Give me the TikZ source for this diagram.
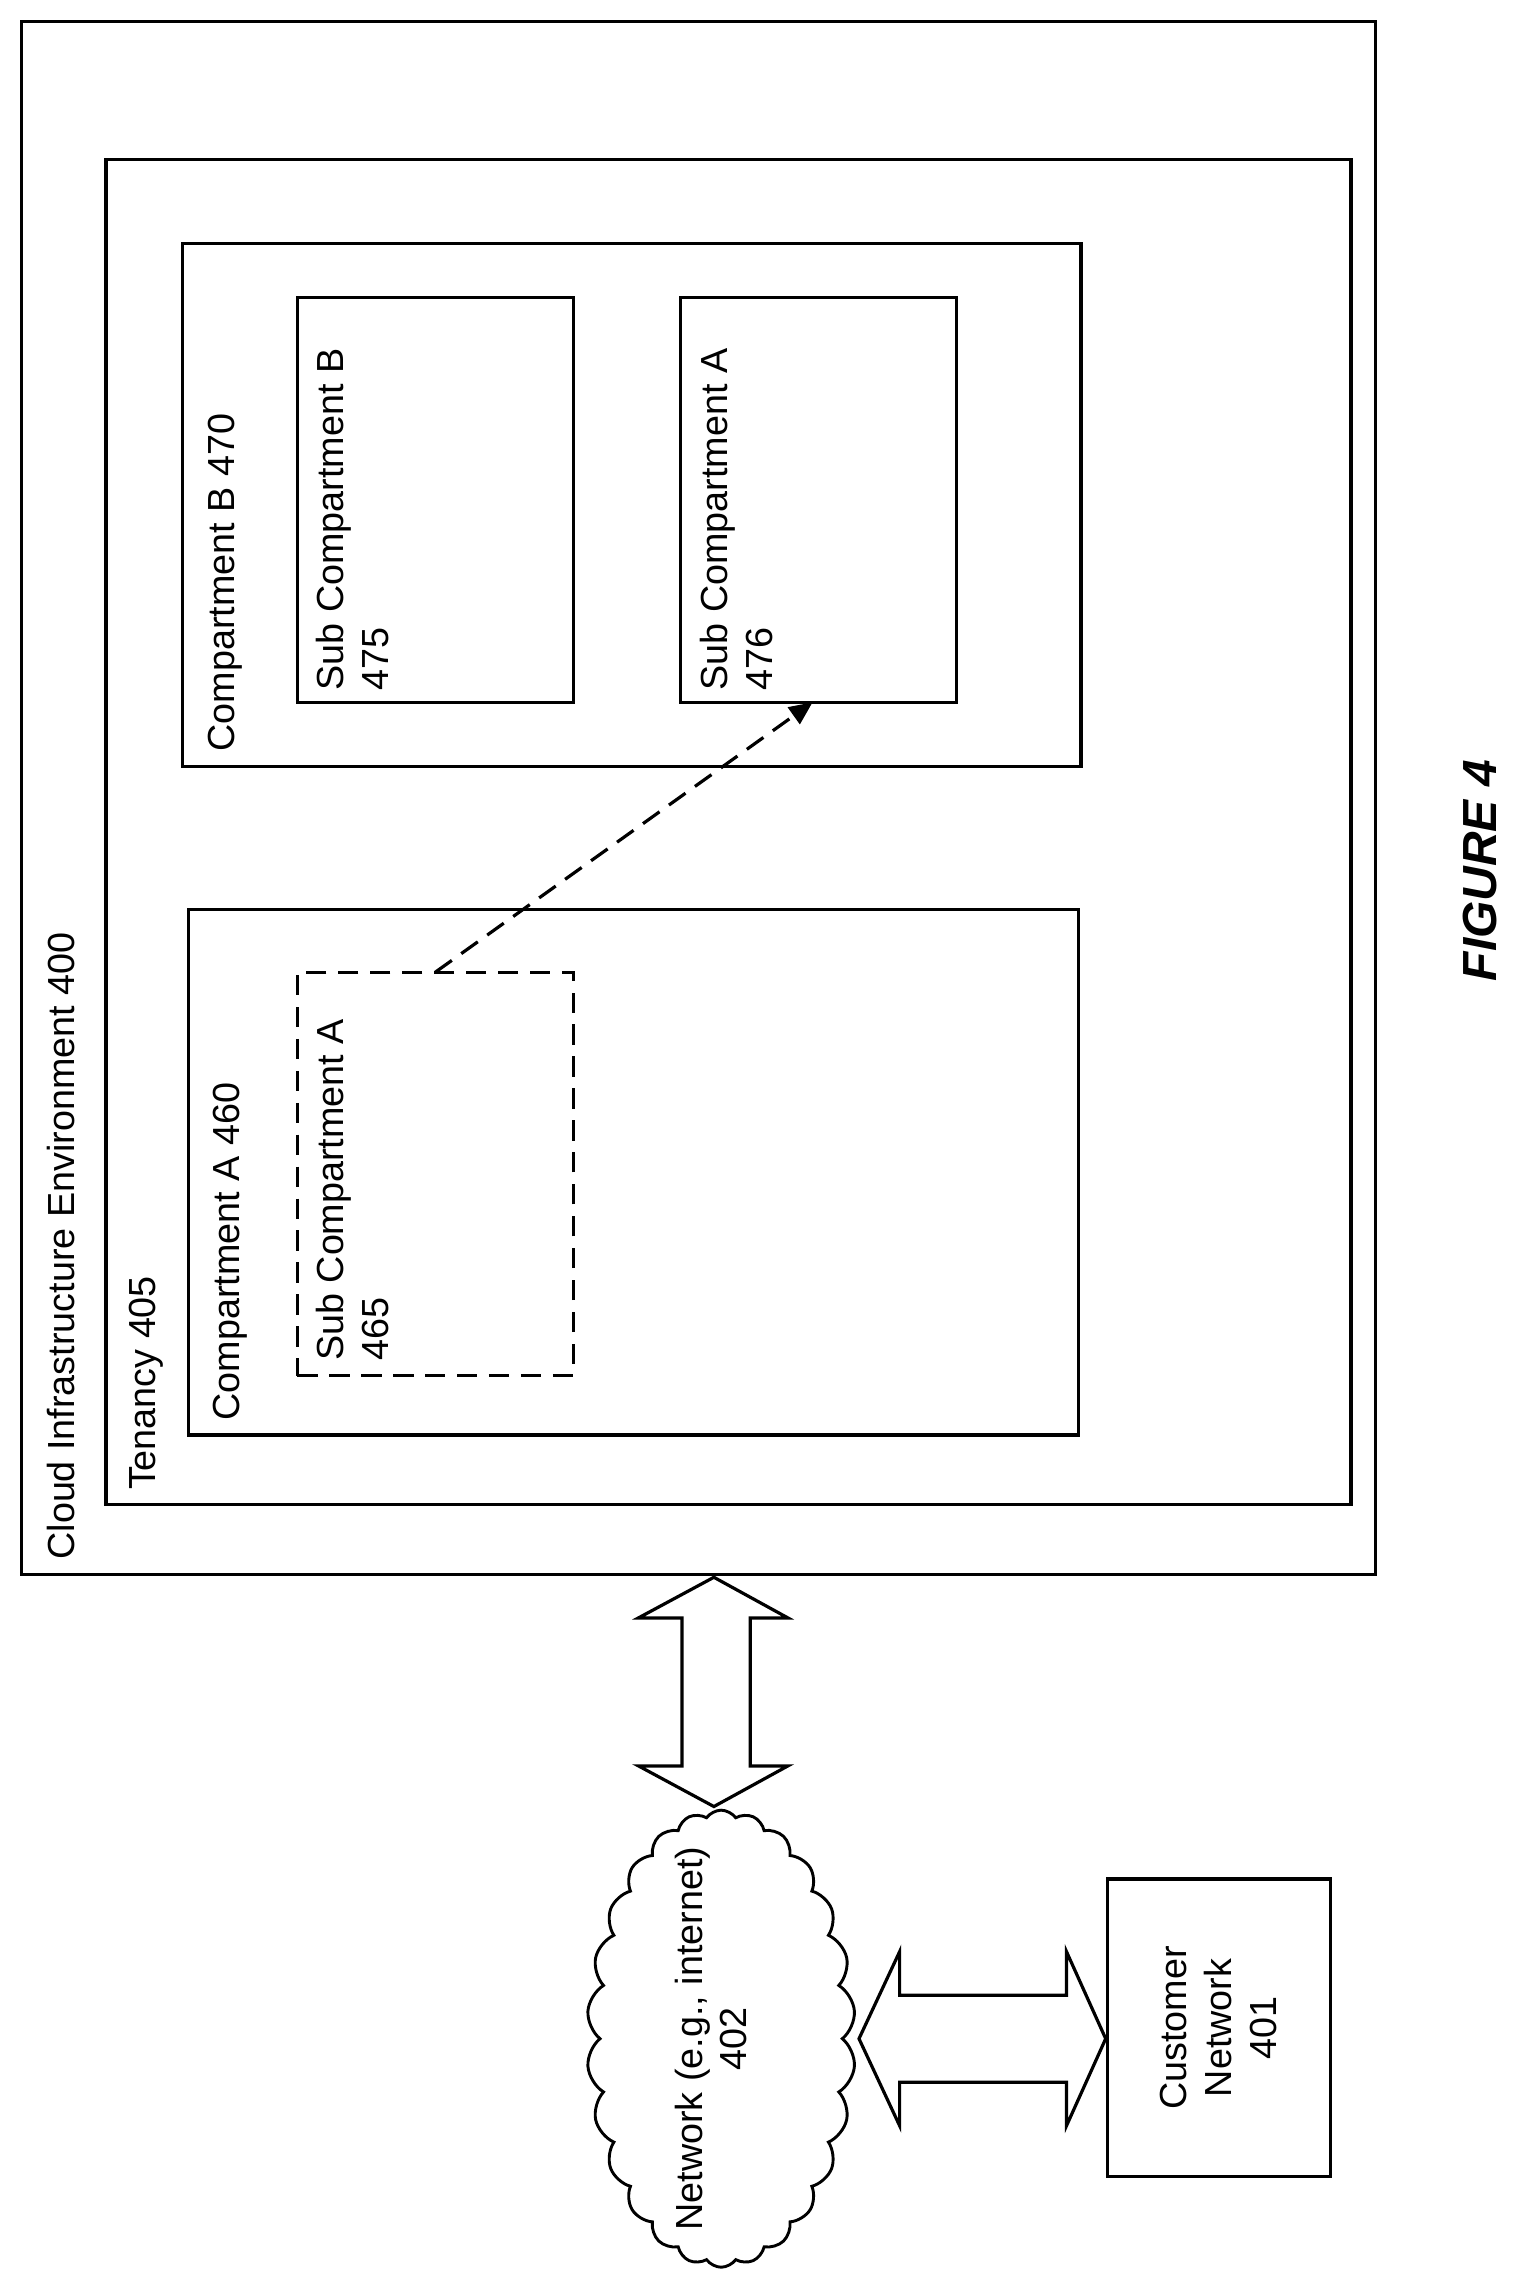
\documentclass[tikz,border=0pt]{standalone}
\usepackage{fontspec}
\setmainfont{Liberation Sans}
\usetikzlibrary{fit,shapes.symbols,arrows.meta}
\begin{document}
\begin{tikzpicture}[x=1pt,y=-1pt,
  box/.style={draw,line width=2.2pt,inner sep=0pt},
  lbl/.style={rotate=90,anchor=north west,inner sep=0pt,font=\fontsize{26}{31}\selectfont,align=left},
  dbl/.style={draw,line width=2.2pt,fill=white}]
\useasboundingbox (0,0) rectangle (1050,1572);
\node[box,fit={(15,15)(948,1085)}] (outer) {};
\node[box,fit={(73,110)(931,1037)}] (ten) {};
\node[box,fit={(126,168)(745,528)}] (compB) {};
\node[box,fit={(205,205)(395,484)}] (subB) {};
\node[box,fit={(469,205)(659,484)}] (subA2) {};
\node[box,fit={(130,627)(743,989)}] (compA) {};
\node[box,dashed,dash pattern=on 14pt off 8pt,fit={(205,670)(395,948)}] (subA) {};
\node[lbl] at (32,1075) {Cloud Infrastructure Environment 400};
\node[lbl] at (89,1027) {Tenancy 405};
\node[lbl] at (143,518) {Compartment B 470};
\node[lbl] at (147,979) {Compartment A 460};
\node[lbl] at (218,476) {Sub Compartment B\\475};
\node[lbl] at (482,476) {Sub Compartment A\\476};
\node[lbl] at (218,938) {Sub Compartment A\\465};
\coordinate (s) at (300,670);
\coordinate (t) at (560,484);
\draw[line width=2.2pt,dash pattern=on 14pt off 8pt,-{Triangle[length=16pt,width=14pt]}] (s) -- (t);
\draw[dbl] (492,1087) -- (543,1115) -- (517,1115) -- (517,1217) -- (543,1217) -- (492,1245) -- (440,1217) -- (470,1217) -- (470,1115) -- (440,1115) -- cycle;
\node[draw,line width=2pt,cloud,cloud puffs=26,cloud puff arc=110,minimum width=185pt,minimum height=315pt,aspect=0.58,inner sep=0pt] (net) at (497,1405) {};
\node[rotate=90,align=center,font=\fontsize{26}{31}\selectfont] at (490,1405) {Network (e.g., internet)\\402};
\draw[dbl] (592,1405) -- (620,1345) -- (620,1375) -- (735,1375) -- (735,1345) -- (762,1405) -- (735,1465) -- (735,1435) -- (620,1435) -- (620,1465) -- cycle;
\node[box,fit={(763,1295)(917,1500)}] (cust) {};
\node[rotate=90,align=center,font=\fontsize{26}{31}\selectfont] at (cust.center) {Customer\\Network\\401};
\node[rotate=90,font=\fontsize{33}{38}\selectfont\bfseries\itshape] at (1020,600) {FIGURE 4};
\end{tikzpicture}
\end{document}
